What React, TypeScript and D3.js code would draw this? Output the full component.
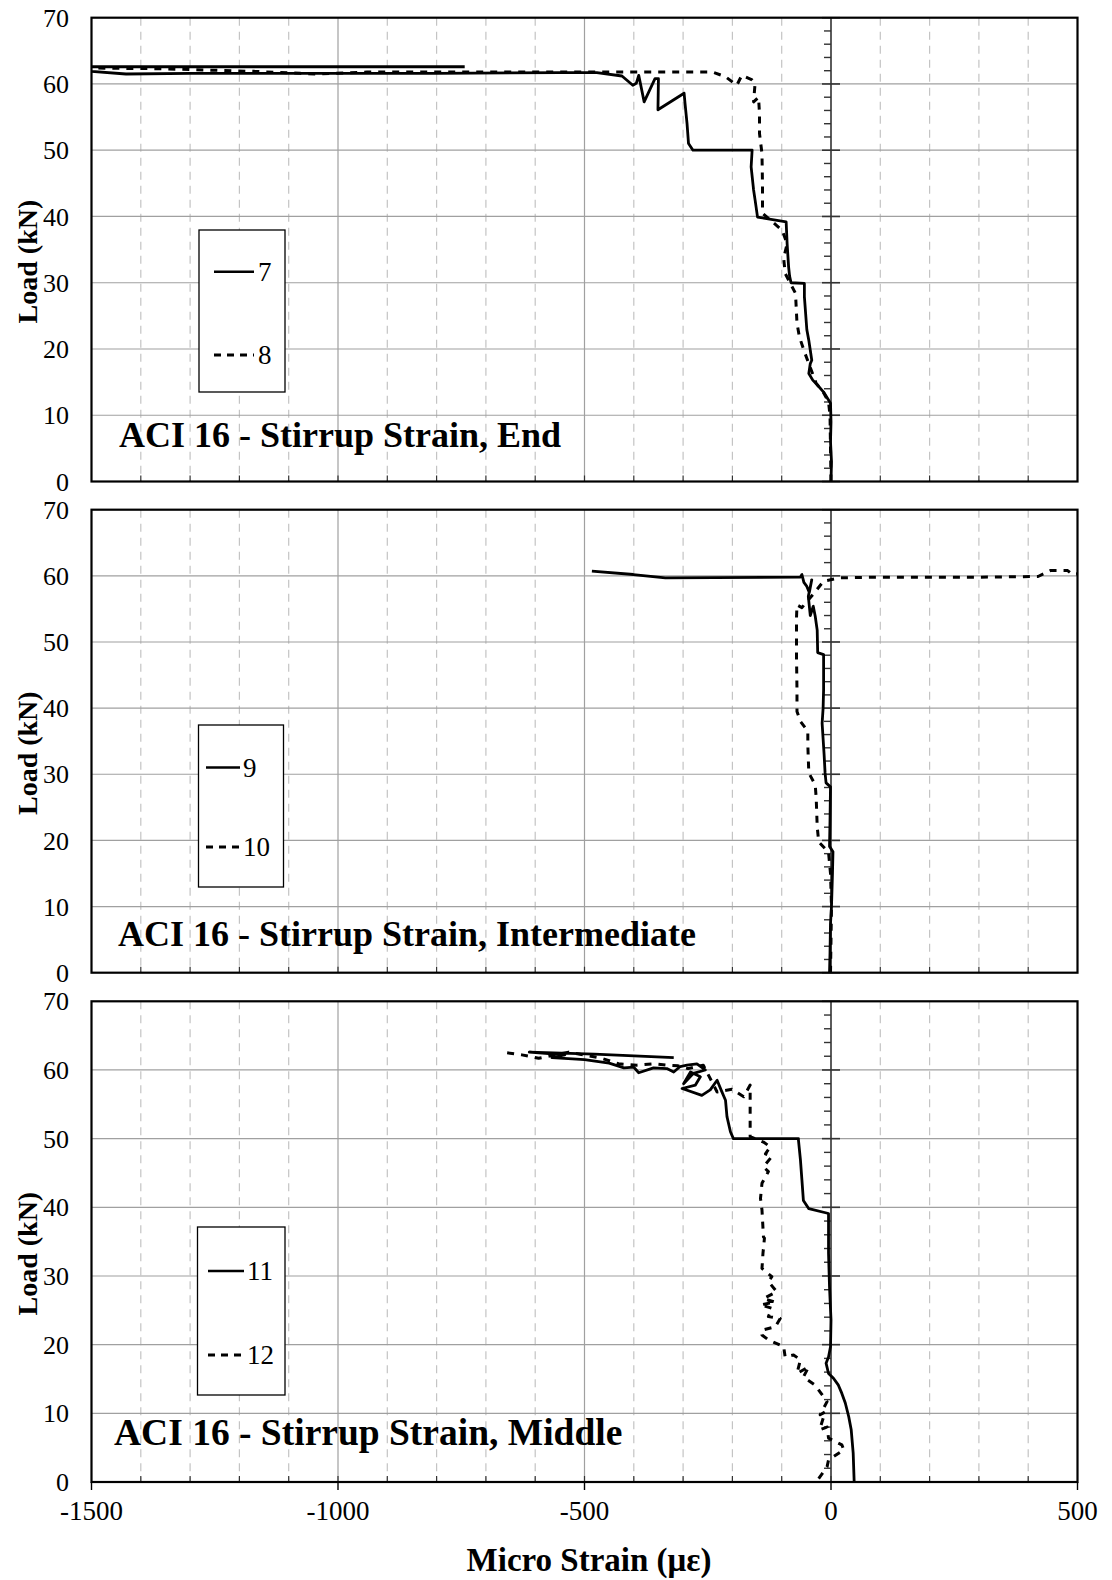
import React from "react";
import * as d3 from "d3";

type Pt = [number, number];

// ---- data (strain in micro strain, load in kN) ----
const xTicks = [-1500, -1000, -500, 0, 500];
const yTicks = [0, 10, 20, 30, 40, 50, 60, 70];

const titles = [
  "ACI 16 - Stirrup Strain, End",
  "ACI 16 - Stirrup Strain, Intermediate",
  "ACI 16 - Stirrup Strain, Middle",
];
const legendLabels = [
  ["7", "8"],
  ["9", "10"],
  ["11", "12"],
];

const s7: Pt[] = [
  [0, 0], [1, 3], [-1, 6], [0, 9], [-1, 11.8], [-5, 12.3], [-15, 13.5], [-28, 14.6], [-37, 15.3],
  [-45, 16.3], [-42, 17.8], [-39, 18.3], [-42, 19.8], [-45, 21.3], [-49, 22.9], [-52, 25.9],
  [-54, 27.9], [-54, 29.9], [-81, 30], [-84, 31], [-86, 32.4], [-89, 35.9], [-91, 39.2],
  [-149, 39.9], [-154, 42.5], [-157, 44], [-162, 47.5], [-160, 50], [-280, 50], [-289, 51],
  [-292, 54], [-296, 57], [-298, 58.6], [-351, 56.1], [-350, 60.8], [-357, 60.8], [-379, 57.3],
  [-390, 61.3], [-395, 60.1], [-402, 59.8], [-424, 61.2], [-475, 61.7], [-549, 61.7],
  [-800, 61.6], [-1000, 61.6], [-1300, 61.6], [-1430, 61.5], [-1500, 61.9], [-1530, 62.2],
  [-1530, 62.6], [-743, 62.6],
];
const s8: Pt[] = [
  [0, 0], [-1, 5], [-2, 10], [-5, 12], [-15, 13.4], [-30, 14.8], [-45, 17.8], [-54, 19.6],
  [-64, 21.8], [-69, 23.9], [-72, 28.4], [-93, 31.4], [-96, 33.7], [-89, 35.9], [-99, 37.9],
  [-139, 40.5], [-139, 45], [-140, 49.5], [-145, 52.5], [-145, 55.5], [-147, 58.0], [-157, 57.3],
  [-154, 60.1], [-160, 60.6], [-181, 61.3], [-191, 59.8], [-214, 61.1], [-241, 61.8],
  [-549, 61.8], [-941, 61.8], [-1046, 61.5], [-1077, 61.6], [-1171, 61.9], [-1266, 62.1],
  [-1361, 62.3], [-1500, 62.4],
];
const s9: Pt[] = [
  [-3, 0], [-2, 3], [-1, 7.5], [1, 10], [2, 12.5], [3, 15], [4, 18.3], [-3, 19.1], [-2, 23],
  [-1, 28.1], [-10, 28.7], [-12, 30.2], [-14, 33], [-18, 37.7], [-16, 40], [-15, 42.8],
  [-15, 48.1], [-27, 48.4], [-28, 51.8], [-32, 53.9], [-36, 55.4], [-42, 54], [-46, 56.9],
  [-39, 59.4], [-44, 57.5], [-49, 58.4], [-55, 59.0], [-59, 60.2], [-62, 59.8], [-336, 59.7],
  [-401, 60.2], [-485, 60.7],
];
const s10: Pt[] = [
  [-1, 0], [0, 5], [1, 10], [-1, 15], [-5, 18.2], [-25, 19.8], [-28, 22.1], [-30, 26.4],
  [-32, 28.4], [-45, 30.2], [-47, 34.4], [-47, 36.5], [-62, 38], [-69, 39.5], [-69, 42.7],
  [-70, 48], [-70, 53.6], [-69, 55.6], [-59, 55.2], [-32, 57.6], [-15, 59.2], [19, 59.7],
  [102, 59.8], [300, 59.8], [420, 59.9], [445, 60.8], [480, 60.8], [490, 60.2], [500, 60.3],
];
const s11: Pt[] = [
  [47, 0], [45, 4.2], [41, 7.6], [36, 9.5], [29, 11.5], [22, 12.9], [15, 14.1], [5, 15.1],
  [-5, 15.8], [-10, 17.3], [-5, 18.2], [-1, 19.7], [0, 23.6], [-3, 28.4], [-5, 33.3],
  [-5, 35.2], [-5, 39.1], [-45, 39.8], [-56, 41], [-59, 44], [-62, 46.9], [-66, 49.8],
  [-66, 50], [-198, 50], [-204, 51], [-211, 53.2], [-214, 55.6], [-223, 57.1], [-231, 58.5],
  [-245, 57.1], [-262, 56.3], [-302, 57.3], [-275, 57.8], [-265, 59.0], [-285, 59.7],
  [-299, 58.0], [-279, 59.5], [-255, 60.0], [-272, 60.9], [-292, 60.7], [-306, 60.5],
  [-319, 59.7], [-333, 60.2], [-360, 60.3], [-390, 59.6], [-400, 60.4], [-420, 60.3],
  [-450, 61.0], [-500, 61.5], [-566, 61.8], [-540, 62.2], [-612, 62.6], [-480, 62.3],
  [-319, 61.8],
];
const s12: Pt[] = [
  [-25, 0.5], [-8, 2.2], [-5, 3.2], [26, 4.7], [22, 5.4], [-5, 6.4], [-8, 8.0], [-23, 7.6],
  [-12, 10.2], [-22, 9.8], [-8, 11.7], [-15, 12.4], [-32, 14.1], [-56, 15.3], [-45, 16.8],
  [-69, 15.8], [-62, 17.8], [-76, 18.5], [-93, 18.2], [-96, 19.7], [-127, 20.7], [-140, 21.4],
  [-140, 22.1], [-113, 22.6], [-103, 23.8], [-127, 24.1], [-120, 25.3], [-143, 25.8],
  [-113, 26.2], [-137, 26.7], [-110, 27.7], [-127, 29.2], [-120, 29.9], [-140, 31.1],
  [-138, 33.3], [-135, 35.5], [-137, 35.7], [-140, 39.6], [-143, 41.3], [-140, 43.5],
  [-127, 45.2], [-137, 45.9], [-120, 47.4], [-133, 47.8], [-123, 48.8], [-137, 49.5],
  [-164, 50.3], [-164, 52.7], [-164, 54.6], [-164, 57.8], [-177, 56.1], [-201, 57.2],
  [-231, 56.8], [-259, 60.7], [-290, 60.2], [-310, 60.6], [-333, 60.7], [-360, 60.9],
  [-394, 60.7], [-431, 60.9], [-465, 61.7], [-532, 62.6], [-593, 61.7], [-627, 62.2],
  [-657, 62.5],
];

const solidSeries = [s7, s9, s11];
const dashedSeries = [s8, s10, s12];

// ---- layout ----
const W = 1112;
const H = 1580;
const X0 = 91.5;
const X1 = 1077.5;
const panels = [
  { top: 17.7, bottom: 481.5, legend: { x: 199, y: 230, w: 86, h: 162, y1: 271.7, y2: 355, lx0: 214, lx1: 254, tx: 258 }, title: { x: 119, y: 447, size: 36 } },
  { top: 509.7, bottom: 972.7, legend: { x: 198.5, y: 725, w: 85, h: 162, y1: 767.5, y2: 847, lx0: 206, lx1: 240, tx: 243 }, title: { x: 118, y: 946, size: 36 } },
  { top: 1001.3, bottom: 1482, legend: { x: 197.5, y: 1227, w: 87.5, h: 168, y1: 1271, y2: 1355, lx0: 208, lx1: 244, tx: 247 }, title: { x: 114, y: 1445, size: 37.5 } },
];

const FONT = "'Liberation Serif', 'Times New Roman', serif";
const x = d3.scaleLinear().domain([-1500, 500]).range([X0, X1]);
const minorX = d3.range(-1400, 500, 100).filter((v) => v % 500 !== 0);
const minorY = d3.range(0, 71, 2);

function Panel({ i }: { i: number }) {
  const p = panels[i];
  const y = d3.scaleLinear().domain([0, 70]).range([p.bottom, p.top]);
  const line = d3.line<Pt>().x((d) => x(d[0])).y((d) => y(d[1]));
  const clipId = `clip${i}`;
  const L = p.legend;
  const x0 = x(0);
  return (
    <g>
      <defs>
        <clipPath id={clipId}>
          <rect x={X0} y={p.top} width={X1 - X0} height={p.bottom - p.top} />
        </clipPath>
      </defs>
      {minorX.map((v) => (
        <line key={"dv" + v} x1={x(v)} x2={x(v)} y1={p.top} y2={p.bottom} stroke="#c4c4c4" strokeWidth={1.2} strokeDasharray="8,6" />
      ))}
      {[-1000, -500].map((v) => (
        <line key={"sv" + v} x1={x(v)} x2={x(v)} y1={p.top} y2={p.bottom} stroke="#a0a0a0" strokeWidth={1.2} />
      ))}
      {yTicks.slice(1, -1).map((v) => (
        <line key={"h" + v} x1={X0} x2={X1} y1={y(v)} y2={y(v)} stroke="#a0a0a0" strokeWidth={1.2} />
      ))}
      {d3.range(-1400, 500, 100).map((v) => (
        <line key={"bt" + v} x1={x(v)} x2={x(v)} y1={p.bottom} y2={p.bottom - 6} stroke="#333" strokeWidth={1.2} />
      ))}
      <line x1={x0} x2={x0} y1={p.top} y2={p.bottom} stroke="#333" strokeWidth={1.6} />
      {minorY.map((v) =>
        v % 10 === 0 ? (
          <line key={"yt" + v} x1={x0 - 9} x2={x0 + 9} y1={y(v)} y2={y(v)} stroke="#333" strokeWidth={1.6} />
        ) : (
          <line key={"yt" + v} x1={x0 - 7} x2={x0} y1={y(v)} y2={y(v)} stroke="#333" strokeWidth={1.4} />
        )
      )}
      <g clipPath={`url(#${clipId})`}>
        <path d={line(dashedSeries[i]) || ""} fill="none" stroke="#000" strokeWidth={3} strokeDasharray="7,7" strokeLinejoin="round" />
        <path d={line(solidSeries[i]) || ""} fill="none" stroke="#000" strokeWidth={2.8} strokeLinejoin="round" />
      </g>
      <rect x={X0} y={p.top} width={X1 - X0} height={p.bottom - p.top} fill="none" stroke="#000" strokeWidth={2.2} />
      {yTicks.map((v) => (
        <text key={"yl" + v} x={69} y={y(v)} dy="0.35em" textAnchor="end" fontSize={26} fontFamily={FONT}>
          {v}
        </text>
      ))}
      <text
        transform={`translate(37,${(p.top + p.bottom) / 2 + 12}) rotate(-90)`}
        textAnchor="middle"
        fontSize={28}
        fontWeight="bold"
        fontFamily={FONT}
      >
        Load (kN)
      </text>
      <rect x={L.x} y={L.y} width={L.w} height={L.h} fill="#fff" stroke="#000" strokeWidth={1.3} />
      <line x1={L.lx0} x2={L.lx1} y1={L.y1} y2={L.y1} stroke="#000" strokeWidth={2.6} />
      <line x1={L.lx0} x2={L.lx1} y1={L.y2} y2={L.y2} stroke="#000" strokeWidth={3} strokeDasharray="7,6" />
      <text x={L.tx} y={L.y1} dy="0.35em" fontSize={27} fontFamily={FONT}>
        {legendLabels[i][0]}
      </text>
      <text x={L.tx} y={L.y2} dy="0.35em" fontSize={27} fontFamily={FONT}>
        {legendLabels[i][1]}
      </text>
      <text x={p.title.x} y={p.title.y} fontSize={p.title.size} fontWeight="bold" fontFamily={FONT}>
        {titles[i]}
      </text>
    </g>
  );
}

export default function App() {
  const last = panels[2];
  return (
    <svg width={W} height={H} style={{ position: "absolute", left: 0, top: 0, background: "#fff" }}>
      <rect x={0} y={0} width={W} height={H} fill="#fff" />
      {panels.map((_, i) => (
        <Panel key={i} i={i} />
      ))}
      {xTicks.map((v) => (
        <g key={"xt" + v}>
          <line x1={x(v)} x2={x(v)} y1={last.bottom} y2={last.bottom + 8} stroke="#000" strokeWidth={1.4} />
          <text x={x(v)} y={1511} dy="0.35em" textAnchor="middle" fontSize={27} fontFamily={FONT}>
            {v}
          </text>
        </g>
      ))}
      <text x={589} y={1559} dy="0.35em" textAnchor="middle" fontSize={33} fontWeight="bold" fontFamily={FONT}>
        Micro Strain (με)
      </text>
    </svg>
  );
}
